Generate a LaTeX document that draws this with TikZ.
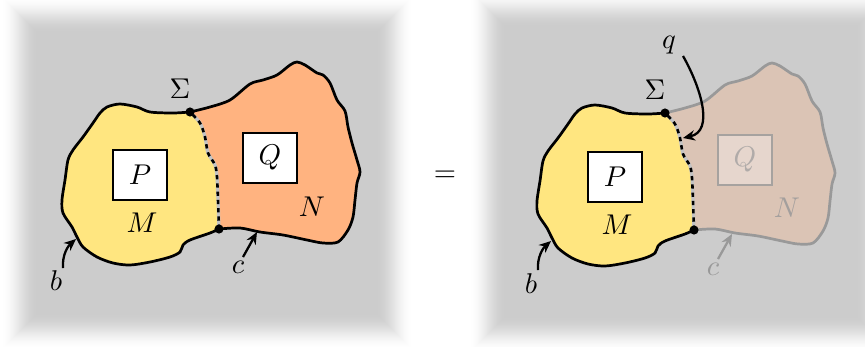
\documentclass[tikz,border=0pt]{standalone}
\usetikzlibrary{arrows.meta}
\definecolor{bg}{RGB}{204,204,204}
\definecolor{myellow}{RGB}{255,230,128}
\definecolor{morange}{RGB}{255,179,128}
\definecolor{mfade}{RGB}{219,196,181}
\definecolor{qfade}{RGB}{230,214,205}
\definecolor{fadeline}{RGB}{153,153,153}
\definecolor{iface}{RGB}{195,195,195}
\begin{document}
\begin{tikzpicture}[x=0.35pt,y=-0.35pt,
  bnd/.style={line width=0.95pt,line join=round,line cap=round},
  dot/.style={circle,fill=black,inner sep=0pt,minimum size=3.2pt},
  lbl/.style={inner sep=1pt},
  box/.style={draw,line width=0.6pt,fill=white,minimum width=54*0.35pt,minimum height=50*0.35pt,inner sep=0pt},
  arr/.style={line width=0.8pt,-{Stealth[length=4.2pt,width=3.6pt]}},
  sm/.style={smooth,tension=0.5},
  ifbase/.style={line width=1.15pt,iface},
  ifdash/.style={line width=0.9pt,dash pattern=on 1.5pt off 1.4pt}]
\useasboundingbox (0,0) rectangle (865,346);
% panels with soft edges
\foreach \k in {0,...,36}{
  \pgfmathsetmacro\t{\k/36}
  \pgfmathsetmacro\p{100*\t*\t*(3-2*\t)}
  \fill[bg!\p!white] (1+\k,-4+\k) rectangle (413-\k,350-\k);
  \fill[bg!\p!white] (469+\k,-10+\k) rectangle (893-\k,353-\k);
}
\node[lbl] (eq) at (445,176) {$=$};
% ---------- left picture ----------
\fill[morange] plot[sm] coordinates {(190,112) (210,107) (230,100) (250,84) (263,80) (277,75) (290,65) (297,62) (305,65) (317,73) (323,75) (330,83) (337,100) (345,111) (348,127) (352,143) (357,160) (360,172) (357,183) (355,200) (353,217) (348,230) (338,242) (323,243) (307,240) (283,235) (260,232) (240,228) (219,229)}
  -- plot[sm] coordinates {(219,229) (218,200) (217,177) (215,165) (208,153) (205,137) (200,123) (190,112)} -- cycle;
\fill[myellow] plot[sm] coordinates {(190,112) (173,113) (150,112) (137,107) (120,104) (107,107) (100,113) (93,123) (83,137) (73,150) (68,160) (65,180) (62,200) (63,213) (72,227) (77,237) (83,247) (97,257) (113,263) (130,265) (150,262) (170,257) (180,252) (183,245) (190,240) (210,233) (219,229)}
  -- plot[sm] coordinates {(219,229) (218,200) (217,177) (215,165) (208,153) (205,137) (200,123) (190,112)} -- cycle;
\draw[bnd] plot[sm] coordinates {(190,112) (210,107) (230,100) (250,84) (263,80) (277,75) (290,65) (297,62) (305,65) (317,73) (323,75) (330,83) (337,100) (345,111) (348,127) (352,143) (357,160) (360,172) (357,183) (355,200) (353,217) (348,230) (338,242) (323,243) (307,240) (283,235) (260,232) (240,228) (219,229)};
\draw[bnd] plot[sm] coordinates {(190,112) (173,113) (150,112) (137,107) (120,104) (107,107) (100,113) (93,123) (83,137) (73,150) (68,160) (65,180) (62,200) (63,213) (72,227) (77,237) (83,247) (97,257) (113,263) (130,265) (150,262) (170,257) (180,252) (183,245) (190,240) (210,233) (219,229)};
\draw[ifbase] plot[sm] coordinates {(219,229) (218,200) (217,177) (215,165) (208,153) (205,137) (200,123) (190,112)};
\draw[ifdash] plot[sm] coordinates {(219,229) (218,200) (217,177) (215,165) (208,153) (205,137) (200,123) (190,112)};
\node[dot] (s1) at (190,112) {};
\node[dot] (d1) at (219,229) {};
\node[box] (P1) at (140,175) {$P$};
\node[box] (Q1) at (270,158) {$Q$};
\node[lbl] (M1) at (142,223) {$M$};
\node[lbl] (N1) at (312,207) {$N$};
\node[lbl] (S1) at (180,89) {$\Sigma$};
\node[lbl] (b1) at (56,281) {$b$};
\node[lbl] (c1) at (238,267) {$c$};
\coordinate (bt1) at (76,239);
\coordinate (ct1) at (257,232);
\draw[arr] (63,268) .. controls (62,255) and (68,246) .. (bt1);
\draw[arr] (243,257) -- (ct1);
% ---------- right picture ----------
\begin{scope}[shift={(475,1)}]
\fill[mfade] plot[sm] coordinates {(190,112) (210,107) (230,100) (250,84) (263,80) (277,75) (290,65) (297,62) (305,65) (317,73) (323,75) (330,83) (337,100) (345,111) (348,127) (352,143) (357,160) (360,172) (357,183) (355,200) (353,217) (348,230) (338,242) (323,243) (307,240) (283,235) (260,232) (240,228) (219,229)}
  -- plot[sm] coordinates {(219,229) (218,200) (217,177) (215,165) (208,153) (205,137) (200,123) (190,112)} -- cycle;
\fill[myellow] plot[sm] coordinates {(190,112) (173,113) (150,112) (137,107) (120,104) (107,107) (100,113) (93,123) (83,137) (73,150) (68,160) (65,180) (62,200) (63,213) (72,227) (77,237) (83,247) (97,257) (113,263) (130,265) (150,262) (170,257) (180,252) (183,245) (190,240) (210,233) (219,229)}
  -- plot[sm] coordinates {(219,229) (218,200) (217,177) (215,165) (208,153) (205,137) (200,123) (190,112)} -- cycle;
\draw[bnd,fadeline] plot[sm] coordinates {(190,112) (210,107) (230,100) (250,84) (263,80) (277,75) (290,65) (297,62) (305,65) (317,73) (323,75) (330,83) (337,100) (345,111) (348,127) (352,143) (357,160) (360,172) (357,183) (355,200) (353,217) (348,230) (338,242) (323,243) (307,240) (283,235) (260,232) (240,228) (219,229)};
\draw[bnd] plot[sm] coordinates {(190,112) (173,113) (150,112) (137,107) (120,104) (107,107) (100,113) (93,123) (83,137) (73,150) (68,160) (65,180) (62,200) (63,213) (72,227) (77,237) (83,247) (97,257) (113,263) (130,265) (150,262) (170,257) (180,252) (183,245) (190,240) (210,233) (219,229)};
\draw[ifbase] plot[sm] coordinates {(219,229) (218,200) (217,177) (215,165) (208,153) (205,137) (200,123) (190,112)};
\draw[ifdash] plot[sm] coordinates {(219,229) (218,200) (217,177) (215,165) (208,153) (205,137) (200,123) (190,112)};
\node[dot] (s2) at (190,112) {};
\node[dot] (d2) at (219,229) {};
\node[box] (P2) at (140,176) {$P$};
\node[box,draw=fadeline!80!mfade,fill=qfade,text=fadeline!70!qfade] (Q2) at (270,159) {$Q$};
\node[lbl] (M2) at (142,224) {$M$};
\node[lbl,text=fadeline!85!mfade] (N2) at (312,207) {$N$};
\node[lbl] (S2) at (180,89) {$\Sigma$};
\node[lbl] (q2) at (194,44) {$q$};
\node[lbl] (b2) at (56,283) {$b$};
\node[lbl,text=fadeline] (c2) at (238,268) {$c$};
\coordinate (bt2) at (76,240);
\coordinate (ct2) at (257,233);
\coordinate (qs2) at (208,55);
\coordinate (qt2) at (208,137);
\draw[arr] (63,269) .. controls (62,256) and (68,247) .. (bt2);
\draw[arr,fadeline] (243,258) -- (ct2);
\draw[arr] (qs2) .. controls (225,85) and (240,130) .. (qt2);
\end{scope}
\end{tikzpicture}
\end{document}
